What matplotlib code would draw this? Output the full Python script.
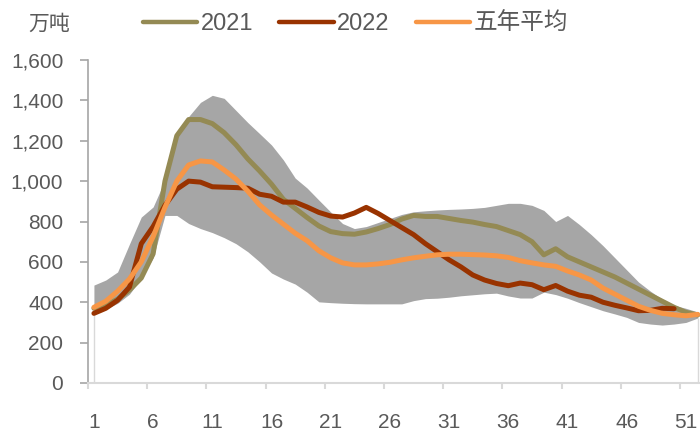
import matplotlib
matplotlib.use("Agg")
import matplotlib.pyplot as plt
import numpy as np

plt.rcParams['font.family'] = ['Liberation Sans', 'Noto Sans CJK SC', 'DejaVu Sans']

weeks = list(range(1, 53))

y2021 = [370, 385, 415, 460, 520, 640, 1000, 1225, 1305, 1305,
         1285, 1240, 1180, 1110, 1050, 985, 910, 865, 820, 778,
         750, 740, 737, 748, 765, 785, 812, 830, 825, 825,
         815, 805, 797, 785, 775, 755, 735, 700, 635, 665,
         625, 600, 575, 550, 525, 495, 465, 435, 405, 375,
         350, 337]

y2022 = [345, 370, 410, 475, 690, 775, 880, 960, 1000, 995,
         972, 970, 968, 965, 935, 925, 896, 896, 872, 845,
         827, 822, 842, 870, 840, 805, 770, 735, 690, 650,
         610, 575, 535, 510, 493, 482, 495, 487, 462, 483,
         455, 435, 425, 400, 385, 372, 358, 360, 370, 368]

avg5 = [375, 405, 455, 515, 600, 725, 870, 1000, 1080, 1100,
        1095, 1055, 1010, 950, 882, 832, 787, 742, 705, 655,
        620, 595, 585, 585, 590, 598, 610, 620, 628, 635,
        638, 638, 636, 634, 630, 622, 606, 595, 585, 578,
        555, 535, 510, 470, 440, 410, 380, 360, 345, 338,
        333, 340]

band_max = [485, 510, 550, 688, 822, 872, 1005, 1240, 1320, 1390,
            1425, 1410, 1350, 1290, 1235, 1179, 1105, 1015, 966, 906,
            847, 790, 765, 775, 795, 815, 835, 848, 853, 857,
            860, 862, 865, 870, 880, 890, 890, 880, 855, 800,
            830, 785, 735, 680, 620, 560, 500, 455, 415, 385,
            370, 352]

band_min = [340, 365, 395, 440, 520, 620, 830, 830, 790, 765,
            745, 720, 690, 650, 600, 545, 515, 490, 450, 402,
            398, 395, 393, 392, 392, 392, 392, 408, 418, 420,
            425, 432, 437, 442, 445, 431, 421, 421, 450, 438,
            420, 398, 378, 358, 342, 325, 300, 292, 287, 292,
            300, 322]

series_names = ['2021', '2022', '五年平均']
y_ticks = [0, 200, 400, 600, 800, 1000, 1200, 1400, 1600]
x_tick_labels = [1, 6, 11, 16, 21, 26, 31, 36, 41, 46, 51]

W, H = 700, 432
fig = plt.figure(figsize=(7.0, 4.32), dpi=100)
x0, x1 = 88, 88 + 52 * 11.84
ytop, ybot = 60, 383
ax = fig.add_axes([x0 / W, (H - ybot) / H, (x1 - x0) / W, (ybot - ytop) / H])

text_color = '#595959'

ax.fill_between(weeks, band_min, band_max, color='#A6A6A6', linewidth=0, zorder=1)
ax.vlines([weeks[0], weeks[-1]], 0, [band_min[0], band_min[-1]],
          color='#D9D9D9', linewidth=1, zorder=1)

l1, = ax.plot(weeks[:len(y2021)], y2021, color='#948A54', linewidth=3.6,
              solid_capstyle='round', solid_joinstyle='round', zorder=3)
l2, = ax.plot(weeks[:len(y2022)], y2022, color='#993300', linewidth=3.6,
              solid_capstyle='round', solid_joinstyle='round', zorder=4)
l3, = ax.plot(weeks[:len(avg5)], avg5, color='#F79646', linewidth=3.6,
              solid_capstyle='round', solid_joinstyle='round', zorder=5)

ax.set_xlim(0.5, 52.5)
ax.set_ylim(0, 1600)

ax.set_yticks(y_ticks)
ax.set_yticklabels([f"{v:,}" for v in y_ticks])
ax.set_xticks(x_tick_labels)
ax.set_xticklabels([str(v) for v in x_tick_labels])
ax.set_xticks([0.5 + 5 * i for i in range(11)], minor=True)

for s in ['top', 'right']:
    ax.spines[s].set_visible(False)
ax.spines['left'].set_color('#A6A6A6')
ax.spines['left'].set_linewidth(1.2)
ax.spines['bottom'].set_color('#D9D9D9')
ax.spines['bottom'].set_linewidth(1.5)

ax.tick_params(axis='y', which='major', direction='out', length=5.8, width=1.2,
               color='#A6A6A6', labelsize=15, labelcolor=text_color, pad=12)
ax.tick_params(axis='x', which='major', length=0, labelsize=15,
               labelcolor=text_color, pad=21.5)
ax.tick_params(axis='x', which='minor', direction='out', length=4.5, width=1.5,
               color='#D9D9D9')

fig.text(49 / W, 1 - 24 / H, '万吨', ha='center', va='center', fontsize=15,
         color=text_color)

leg = fig.legend([l1, l2, l3], series_names, loc='center left',
                 bbox_to_anchor=(143 / W, 1 - 24 / H), bbox_transform=fig.transFigure,
                 ncol=3, frameon=False, fontsize=17, handlelength=2.3,
                 handletextpad=0.15, columnspacing=1.1, borderpad=0, borderaxespad=0)
for t in leg.get_texts():
    t.set_color(text_color)
for h in leg.get_lines():
    h.set_linewidth(3.2)

fig.savefig('out.png', dpi=100)
